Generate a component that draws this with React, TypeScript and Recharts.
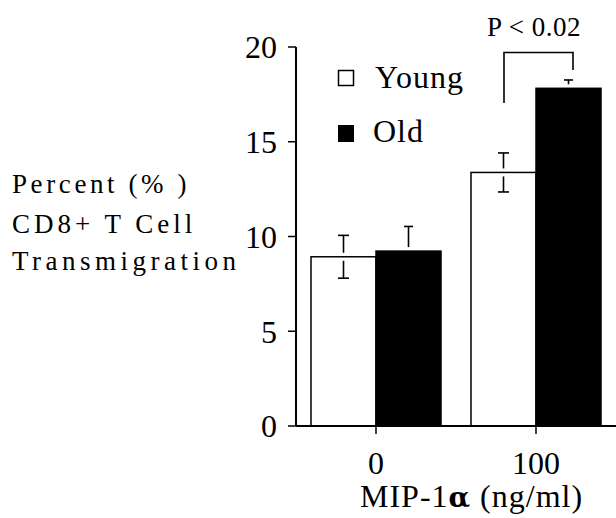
import React from 'react';
import { BarChart, Bar, XAxis, YAxis } from 'recharts';

const categories = ['0', '100'];
const youngValues = [8.93, 13.38];
const youngErrors = [1.13, 1.03];
const oldValues = [9.23, 17.82];
const oldErrors = [1.3, 0.44];
const yTicks = [0, 5, 10, 15, 20];

const data = categories.map((c, i) => ({
  dose: c,
  young: youngValues[i],
  youngErr: youngErrors[i],
  old: oldValues[i],
  oldErr: oldErrors[i],
}));

const FONT = 'Liberation Serif, Times New Roman, serif';

const makeShape = (errKey: string, fill: string, capW: number) => (props: any) => {
  const { x, y, width, height, payload, value } = props;
  const v = Array.isArray(value) ? value[1] - value[0] : value;
  const err = payload[errKey];
  const errPx = v ? (err * height) / v : 0;
  const cx = x + width / 2;
  const gap = 4;
  return (
    <g>
      <rect x={x} y={y} width={width} height={height} fill={fill} stroke="#000" strokeWidth={1.5} />
      <line x1={cx} x2={cx} y1={y - gap} y2={y - errPx} stroke="#000" strokeWidth={1.6} />
      <line x1={cx - capW / 2} x2={cx + capW / 2} y1={y - errPx} y2={y - errPx} stroke="#000" strokeWidth={1.6} />
      <line x1={cx} x2={cx} y1={y + gap} y2={y + errPx} stroke="#000" strokeWidth={1.6} />
      <line x1={cx - capW / 2} x2={cx + capW / 2} y1={y + errPx} y2={y + errPx} stroke="#000" strokeWidth={1.6} />
    </g>
  );
};

export default function App() {
  return (
    <div style={{ position: 'absolute', left: 0, top: 0, width: 616, height: 518, background: '#fff', fontFamily: FONT }}>
      <BarChart
        width={616}
        height={518}
        data={data}
        margin={{ top: 47, right: 0, bottom: 62, left: 0 }}
        barGap={0}
        barCategoryGap={15}
      >
        <XAxis
          dataKey="dose"
          height={30}
          axisLine={{ stroke: '#000', strokeWidth: 2 }}
          tickLine={{ stroke: '#000', strokeWidth: 1.5 }}
          tickSize={8}
          tickMargin={17}
          tick={{ fill: '#000', fontSize: 32, fontFamily: FONT }}
          interval={0}
        />
        <YAxis
          width={296}
          domain={[0, 20]}
          ticks={yTicks}
          axisLine={{ stroke: '#000', strokeWidth: 2 }}
          tickLine={{ stroke: '#000', strokeWidth: 1.5 }}
          tickSize={8}
          tickMargin={11}
          tick={{ fill: '#000', fontSize: 32, fontFamily: FONT }}
          interval={0}
        />
        <Bar dataKey="young" fill="#fff" barSize={65} isAnimationActive={false} shape={makeShape('youngErr', '#fff', 11)} />
        <Bar dataKey="old" fill="#000" barSize={65} isAnimationActive={false} shape={makeShape('oldErr', '#000', 9)} />
      </BarChart>
      <svg
        width={616}
        height={518}
        style={{ position: 'absolute', left: 0, top: 0, pointerEvents: 'none' }}
      >
        {/* Y axis title */}
        <text x={12} y={193} fontSize={27} fontFamily={FONT} letterSpacing={3.6} fill="#000">Percent (% )</text>
        <text x={12} y={233} fontSize={27} fontFamily={FONT} letterSpacing={4} fill="#000">CD8+ T Cell</text>
        <text x={12} y={270} fontSize={27} fontFamily={FONT} letterSpacing={4.5} fill="#000">Transmigration</text>
        {/* X axis title */}
        <text x={360} y={507} fontSize={32} fontFamily={FONT} letterSpacing={1} fill="#000">
          MIP-1<tspan fontWeight="bold" fontFamily="DejaVu Serif, serif" fontSize={28}>α</tspan> (ng/ml)
        </text>
        {/* Legend */}
        <rect x={338.5} y={70.5} width={15} height={15} fill="#fff" stroke="#000" strokeWidth={1.5} />
        <text x={375} y={88} fontSize={32} fontFamily={FONT} letterSpacing={1} fill="#000">Young</text>
        <rect x={338} y={125} width={16} height={17} fill="#000" />
        <text x={373} y={142} fontSize={32} fontFamily={FONT} letterSpacing={1} fill="#000">Old</text>
        {/* Significance bracket */}
        <polyline points="504,103 504,52.5 573,52.5 573,70" fill="none" stroke="#000" strokeWidth={1.6} />
        <text x={487} y={36} fontSize={27} fontFamily={FONT} letterSpacing={0.5} fill="#000">P &lt; 0.02</text>
      </svg>
    </div>
  );
}
